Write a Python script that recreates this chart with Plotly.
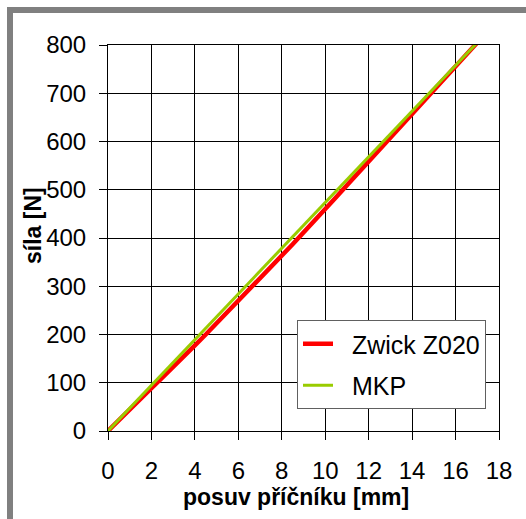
import plotly.graph_objects as go

# Crosshead displacement [mm] vs force [N]
zwick_x = [0, 0.5, 1, 1.5, 2, 2.5, 3, 3.5, 4, 4.5, 5, 5.5, 6, 6.5, 7, 7.5, 8,
           8.5, 9, 9.5, 10, 10.5, 11, 11.5, 12, 12.5, 13, 13.5, 14, 14.5, 15,
           15.5, 16, 16.5, 17.0]
zwick_f = [0, 23, 44, 67, 89, 110.5, 132, 155, 177.5, 200, 223, 246, 269.5,
           292, 316, 339.5, 363, 387, 411.5, 435, 460, 484.5, 509.5, 534, 559,
           584.5, 609, 634, 658.5, 683, 708, 731.5, 756.5, 781, 805]

mkp_x = [0, 17.0]
mkp_f = [0, 805]

x_ticks = [0, 2, 4, 6, 8, 10, 12, 14, 16, 18]
y_ticks = [0, 100, 200, 300, 400, 500, 600, 700, 800]

FONT = "Liberation Sans, Arial, sans-serif"

fig = go.Figure()
fig.add_trace(go.Scatter(x=zwick_x, y=zwick_f, mode="lines", name="  Zwick Z020",
                         legendgroup="a",
                         line=dict(color="#FF0000", width=4.5)))
fig.add_trace(go.Scatter(x=mkp_x, y=mkp_f, mode="lines", name="  MKP",
                         legendgroup="b",
                         line=dict(color="#99CC00", width=3)))

axis_common = dict(
    showgrid=True, gridcolor="black", gridwidth=1,
    showline=True, linecolor="black", linewidth=1, mirror=True,
    ticks="outside", ticklen=8, tickcolor="black", tickwidth=1,
    tickfont=dict(family=FONT, size=24, color="black"),
    zeroline=False,
)

fig.update_xaxes(range=[0, 18], tickvals=x_ticks, ticktext=[str(v) for v in x_ticks],
                 ticklabelstandoff=10, **axis_common)
fig.update_yaxes(range=[0, 800], tickvals=y_ticks, ticktext=[str(v) for v in y_ticks],
                 ticklabelstandoff=8, **axis_common)

# Gray frame stripes along the left and top edges of the figure
px_w, px_h = 391, 386
left, top = 108, 45
def px_to_paper_x(p):
    return (p - left) / px_w
def px_to_paper_y(p):
    return (top + px_h - p) / px_h

shapes = [
    dict(type="rect", xref="paper", yref="paper",
         x0=px_to_paper_x(7), x1=px_to_paper_x(13),
         y0=px_to_paper_y(530), y1=px_to_paper_y(7),
         fillcolor="#808080", line=dict(width=0), layer="below"),
    dict(type="rect", xref="paper", yref="paper",
         x0=px_to_paper_x(7), x1=px_to_paper_x(540),
         y0=px_to_paper_y(13), y1=px_to_paper_y(7),
         fillcolor="#808080", line=dict(width=0), layer="below"),
]

annotations = [
    dict(text="<b>posuv příčníku [mm]</b>", xref="paper", yref="paper",
         x=px_to_paper_x(296), y=px_to_paper_y(497), showarrow=False,
         xanchor="center", yanchor="middle",
         font=dict(family=FONT, size=23, color="black")),
    dict(text="<b>síla [N]</b>", xref="paper", yref="paper",
         x=px_to_paper_x(33), y=px_to_paper_y(226), showarrow=False,
         xanchor="center", yanchor="middle", textangle=-90,
         font=dict(family=FONT, size=23, color="black")),
]

fig.update_layout(
    width=526, height=519,
    margin=dict(l=left, r=526 - left - px_w, t=top, b=519 - top - px_h),
    paper_bgcolor="white", plot_bgcolor="white",
    showlegend=True,
    legend=dict(x=px_to_paper_x(297), y=px_to_paper_y(320),
                xanchor="left", yanchor="top",
                bgcolor="white", bordercolor="#606060", borderwidth=1,
                font=dict(family=FONT, size=25, color="black"),
                tracegroupgap=6, traceorder="grouped"),
    shapes=shapes, annotations=annotations,
)

fig.write_html("out.html")
